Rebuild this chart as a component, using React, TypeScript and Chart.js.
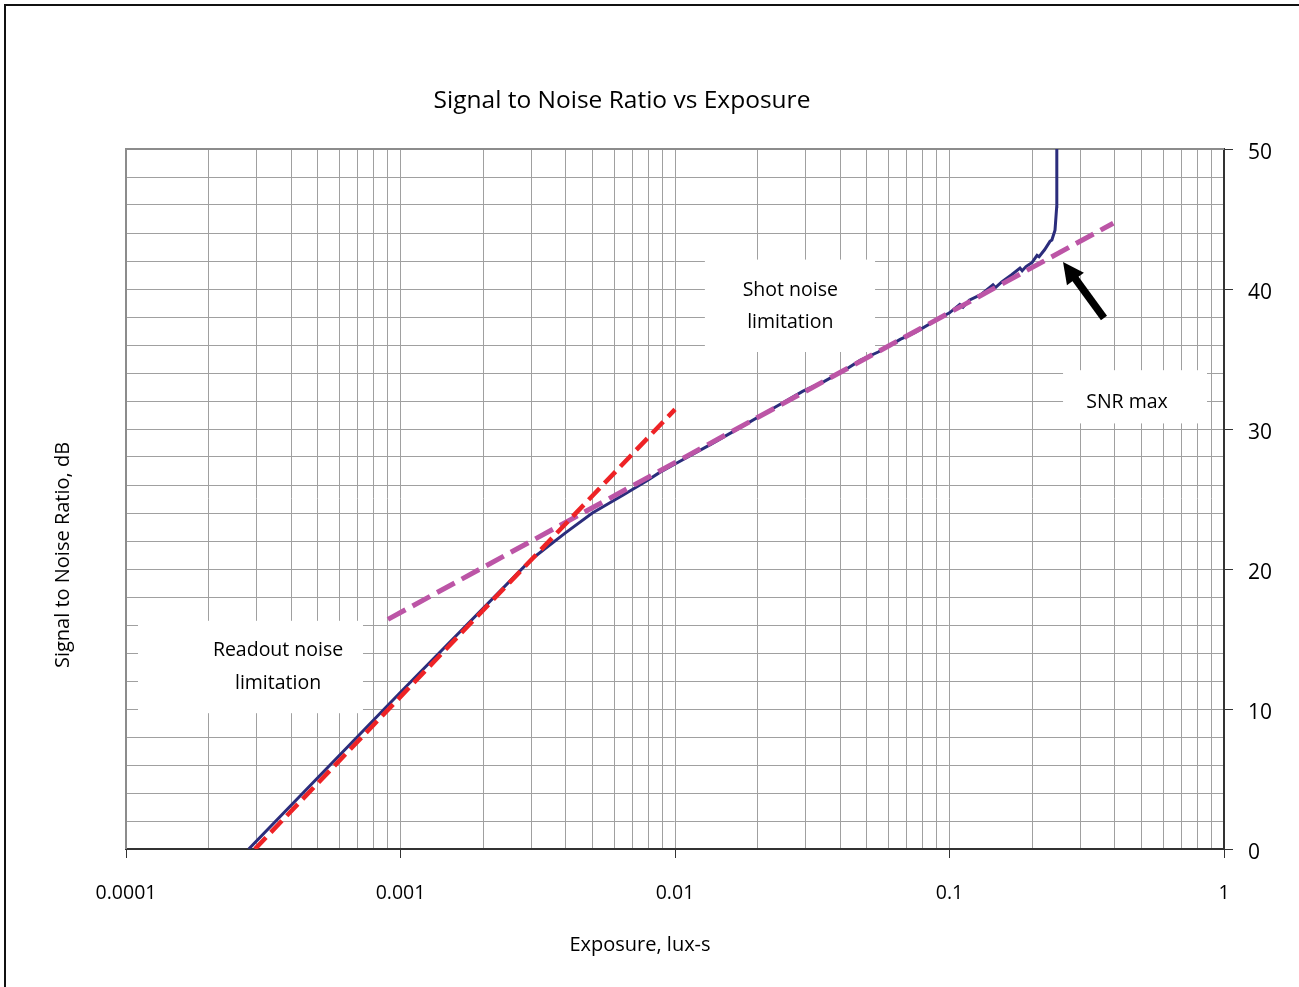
import React, { useEffect, useRef } from 'react';
import { Chart, registerables } from 'chart.js';

Chart.register(...registerables);

// ---- Data ----
const exposure = [
  0.00028, 0.001, 0.003, 0.004, 0.005, 0.0065, 0.0079, 0.0088, 0.01, 0.0135,
  0.01726, 0.022, 0.02926, 0.035, 0.0423, 0.0472, 0.055, 0.0623, 0.0661, 0.075,
  0.09, 0.1, 0.109, 0.112, 0.118, 0.13, 0.144, 0.147, 0.155, 0.168,
  0.1806, 0.184, 0.19, 0.2, 0.2084, 0.212, 0.222, 0.2323, 0.236, 0.2423,
  0.2458, 0.246,
];
const snrMeasured = [
  0, 11.2, 20.7, 22.6, 24.0, 25.3, 26.3, 26.9, 27.5, 28.9,
  30.1, 31.3, 32.7, 33.4, 34.3, 34.9, 35.5, 36.1, 36.4, 36.9,
  37.8, 38.3, 38.9, 38.7, 39.2, 39.6, 40.3, 40.1, 40.5, 41.0,
  41.5, 41.3, 41.6, 41.9, 42.4, 42.3, 42.8, 43.4, 43.5, 44.2,
  45.9, 50,
];
const readoutExposure = [0.000295, 0.01];
const readoutSnr = [0, 31.4];
const shotExposure = [0.0009, 0.395];
const shotSnr = [16.4, 44.7];

const xDecades = [0.0001, 0.001, 0.01, 0.1, 1];
const xDecadeLabels = ['0.0001', '0.001', '0.01', '0.1', '1'];
const xMinorSteps = [1, 2, 3, 4, 5, 6, 7, 8, 9];
const yMajorLabels = [0, 10, 20, 30, 40, 50];

const FONT = "'Open Sans', 'Noto Sans', sans-serif";

// annotation anchors in data space (box corners and text centre)
const notes = [
  { x0: 0.01285, x1: 0.05355, y0: 42.1, y1: 35.5, tx: 0.0263, ty: 38.75, lines: ['Shot noise', 'limitation'] },
  { x0: 0.2592, x1: 0.867, y0: 34.2, y1: 30.4, tx: 0.4432, ty: 31.93, lines: ['SNR max'] },
  { x0: 0.0001106, x1: 0.00073, y0: 16.3, y1: 9.7, tx: 0.000358, ty: 13.0, lines: ['Readout noise', 'limitation'] },
];
const arrowTip = { x: 0.2592, y: 41.93 };
const arrowTail = { x: 0.3654, y: 37.93 };

const toXY = (xs: number[], ys: number[]) => xs.map((x, i) => ({ x, y: ys[i] }));

const decorPlugin = {
  id: 'decor',
  beforeDraw(chart: any) {
    const { ctx, width, height } = chart;
    ctx.save();
    ctx.fillStyle = '#ffffff';
    ctx.fillRect(0, 0, width, height);
    ctx.strokeStyle = '#111111';
    ctx.lineWidth = 2;
    ctx.strokeRect(5, 5, width + 20, height + 20);
    ctx.restore();
  },
  beforeDatasetsDraw(chart: any) {
    const { ctx, scales, chartArea } = chart;
    const xs = scales.x;
    const ys = scales.y;
    ctx.save();
    // plot frame (top / left)
    ctx.strokeStyle = '#8c8c8c';
    ctx.lineWidth = 2;
    ctx.beginPath();
    ctx.moveTo(chartArea.left, chartArea.bottom);
    ctx.lineTo(chartArea.left, chartArea.top);
    ctx.lineTo(chartArea.right, chartArea.top);
    ctx.stroke();

    ctx.font = `19.5px ${FONT}`;
    ctx.textAlign = 'center';
    ctx.textBaseline = 'middle';
    notes.forEach((n) => {
      const l = xs.getPixelForValue(n.x0);
      const r = xs.getPixelForValue(n.x1);
      const t = ys.getPixelForValue(n.y0);
      const b = ys.getPixelForValue(n.y1);
      ctx.fillStyle = '#ffffff';
      ctx.fillRect(l, t, r - l, b - t);
      ctx.fillStyle = '#000000';
      const cx = xs.getPixelForValue(n.tx);
      const cy = ys.getPixelForValue(n.ty);
      const lh = 32.5;
      n.lines.forEach((s, i) => {
        ctx.fillText(s, cx, cy + (i - (n.lines.length - 1) / 2) * lh);
      });
    });
    ctx.restore();
  },
  afterDraw(chart: any) {
    const { ctx, scales, chartArea } = chart;
    const xs = scales.x;
    const ys = scales.y;
    ctx.save();
    // arrow
    const tx = xs.getPixelForValue(arrowTip.x);
    const ty = ys.getPixelForValue(arrowTip.y);
    const ex = xs.getPixelForValue(arrowTail.x);
    const ey = ys.getPixelForValue(arrowTail.y);
    const dx = ex - tx;
    const dy = ey - ty;
    const len = Math.hypot(dx, dy);
    const ux = dx / len;
    const uy = dy / len;
    const headLen = 21;
    const headHalf = 10.5;
    const bx = tx + ux * headLen;
    const by = ty + uy * headLen;
    ctx.strokeStyle = '#000000';
    ctx.fillStyle = '#000000';
    ctx.lineWidth = 7.5;
    ctx.beginPath();
    ctx.moveTo(bx - ux * 2, by - uy * 2);
    ctx.lineTo(ex, ey);
    ctx.stroke();
    ctx.beginPath();
    ctx.moveTo(tx, ty);
    ctx.lineTo(bx - uy * headHalf, by + ux * headHalf);
    ctx.lineTo(bx + uy * headHalf, by - ux * headHalf);
    ctx.closePath();
    ctx.fill();

    // titles
    ctx.fillStyle = '#000000';
    ctx.textAlign = 'center';
    ctx.textBaseline = 'middle';
    ctx.font = `24.5px ${FONT}`;
    ctx.fillText('Signal to Noise Ratio vs Exposure', chartArea.left + 496, chartArea.top - 48);
    ctx.font = `20px ${FONT}`;
    ctx.fillText('Exposure, lux-s', chartArea.left + 514, chartArea.bottom + 96);
    ctx.translate(chartArea.left - 63, chartArea.top + 406);
    ctx.rotate(-Math.PI / 2);
    ctx.fillText('Signal to Noise Ratio, dB', 0, 0);
    ctx.restore();
  },
};

export default function App() {
  const canvasRef = useRef<HTMLCanvasElement | null>(null);

  useEffect(() => {
    const canvas = canvasRef.current;
    if (!canvas) return;
    const isDecade = (v: number) => Math.abs(Math.log10(v) - Math.round(Math.log10(v))) < 1e-6;

    const chart = new Chart(canvas, {
      type: 'line',
      data: {
        datasets: [
          {
            label: 'Readout noise limit',
            data: toXY(readoutExposure, readoutSnr),
            borderColor: '#EE2326',
            borderWidth: 4.5,
            borderDash: [16, 7],
            pointRadius: 0,
            fill: false,
          },
          {
            label: 'Shot noise limit',
            data: toXY(shotExposure, shotSnr),
            borderColor: '#BC55A6',
            borderWidth: 5,
            borderDash: [20, 8],
            pointRadius: 0,
            fill: false,
          },
          {
            label: 'SNR',
            data: toXY(exposure, snrMeasured),
            borderColor: '#2B2D7C',
            borderWidth: 3,
            pointRadius: 0,
            fill: false,
            tension: 0,
          },
        ],
      },
      options: {
        animation: false,
        responsive: false,
        parsing: false as any,
        layout: { padding: { left: 126, top: 149, right: 0, bottom: 0 } },
        plugins: {
          legend: { display: false },
          tooltip: { enabled: false },
          title: { display: false },
        },
        scales: {
          x: {
            type: 'logarithmic',
            position: 'bottom',
            min: 0.0001,
            max: 1,
            afterBuildTicks: (scale: any) => {
              const ticks: { value: number }[] = [];
              xDecades.forEach((d, i) => {
                if (i === xDecades.length - 1) {
                  ticks.push({ value: d });
                } else {
                  xMinorSteps.forEach((m) => ticks.push({ value: +(d * m).toPrecision(6) }));
                }
              });
              scale.ticks = ticks;
            },
            afterFit: (scale: any) => {
              scale.height = 138;
            },
            grid: {
              color: '#a0a0a0',
              lineWidth: 1,
              drawTicks: true,
              tickLength: 9,
              tickColor: (ctx: any) => (ctx.tick && isDecade(ctx.tick.value) ? '#333333' : 'rgba(0,0,0,0)'),
            },
            border: { display: true, color: '#333333', width: 2 },
            ticks: {
              autoSkip: false,
              maxRotation: 0,
              padding: 24,
              color: '#000000',
              font: { family: FONT, size: 19.5 },
              callback: (value: any) => {
                const v = Number(value);
                const idx = xDecades.findIndex((d) => Math.abs(Math.log10(d) - Math.log10(v)) < 1e-6);
                return idx >= 0 ? xDecadeLabels[idx] : '';
              },
            },
          },
          y: {
            type: 'linear',
            position: 'right',
            min: 0,
            max: 50,
            afterFit: (scale: any) => {
              scale.width = 75;
            },
            grid: {
              color: '#a0a0a0',
              lineWidth: 1,
              tickLength: 9,
              tickColor: (ctx: any) => (ctx.tick && yMajorLabels.includes(ctx.tick.value) ? '#333333' : 'rgba(0,0,0,0)'),
            },
            border: { display: true, color: '#333333', width: 2 },
            ticks: {
              stepSize: 2,
              autoSkip: false,
              padding: 15,
              color: '#000000',
              font: { family: FONT, size: 21 },
              labelOffset: 4,
              callback: (value: any) => (yMajorLabels.includes(Number(value)) ? String(value) : ''),
            },
          },
        },
      },
      plugins: [decorPlugin],
    } as any);

    return () => chart.destroy();
  }, []);

  return (
    <div style={{ position: 'absolute', left: 0, top: 0, width: 1299, height: 987, background: '#fff' }}>
      <canvas ref={canvasRef} width={1299} height={987} style={{ display: 'block' }} />
    </div>
  );
}
